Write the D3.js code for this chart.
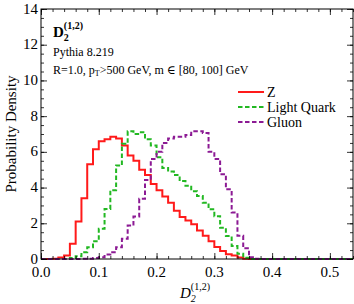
<!DOCTYPE html>
<html>
<head>
<meta charset="utf-8">
<script src="https://cdn.jsdelivr.net/npm/d3@7"></script>
<style>
body { margin: 0; background: #fff; }
text { font-family: "Liberation Serif", "DejaVu Serif", serif; }
</style>
</head>
<body>
<script>
// bin edges start at 0.00, width 0.01
var binStart = d3.range(0, 0.54, 0.01).map(function(d) { return +d.toFixed(2); });

var zValues = [0, 0, 0.02, 0.08, 0.2, 0.85, 2.1, 3.4, 5.3, 6.15,
  6.6, 6.7, 6.85, 6.75, 6.35, 5.8, 5.5, 5.0, 4.7, 4.2,
  3.85, 3.5, 3.15, 2.7, 2.35, 2.15, 1.95, 1.6, 1.3, 1.0,
  0.67, 0.45, 0.27, 0.2, 0.08, 0.02];

var quarkValues = [0, 0, 0, 0, 0, 0.05, 0.16, 0.38, 0.66, 1.0,
  1.69, 2.8, 3.85, 5.23, 6.45, 7.15, 7.0, 7.1, 6.7, 6.35,
  5.7, 5.1, 4.9, 4.7, 4.37, 4.1, 3.8, 3.53, 3.15, 2.78,
  2.4, 1.75, 1.29, 0.73, 0.3, 0.07];

var gluonValues = [0, 0, 0, 0, 0, 0, 0, 0.01, 0.02, 0.05,
  0.1, 0.25, 0.38, 0.66, 1.13, 1.87, 2.38, 3.37, 4.43, 5.6,
  6.0, 6.5, 6.75, 6.85, 6.85, 6.95, 7.15, 7.15, 7.05, 6.0,
  5.6, 4.75, 3.9, 2.6, 1.3, 0.6, 0.1, 0.02];

var seriesNames = ["Z", "Light Quark", "Gluon"];
var xTicks = [0.0, 0.1, 0.2, 0.3, 0.4, 0.5];
var yTicks = [0, 2, 4, 6, 8, 10, 12, 14];

var W = 354, H = 304;
var margin = {top: 9, right: 1, bottom: 45, left: 41};
var width = W - margin.left - margin.right,
    height = H - margin.top - margin.bottom;

var x = d3.scaleLinear().domain([0, 0.54]).range([0, width]);
var y = d3.scaleLinear().domain([0, 14]).range([height, 0]);

var svg = d3.select("body").append("svg")
    .attr("width", W)
    .attr("height", H);
var g = svg.append("g")
    .attr("transform", "translate(" + margin.left + "," + margin.top + ")");

// turn a value list into step points over the whole x range
function toSteps(vals) {
  var pts = binStart.map(function(b, i) { return {x: b, y: i < vals.length ? vals[i] : 0}; });
  pts.push({x: 0.54, y: pts[pts.length - 1].y});
  return pts;
}

var line = d3.line()
    .curve(d3.curveStepAfter)
    .x(function(d) { return x(d.x); })
    .y(function(d) { return y(d.y); });

var styles = [
  {color: "#ff1a1a", dash: null},
  {color: "#22b822", dash: "4.5,2.5"},
  {color: "#8c1a94", dash: "4.5,2.5"}
];
var allSeries = [zValues, quarkValues, gluonValues];

allSeries.forEach(function(vals, i) {
  g.append("path")
    .datum(toSteps(vals))
    .attr("fill", "none")
    .attr("stroke", styles[i].color)
    .attr("stroke-width", 2)
    .attr("stroke-dasharray", styles[i].dash)
    .attr("d", line);
});

// axes with inward ticks, major + minor
var xMinor = d3.range(0, 0.541, 0.02).map(function(d) { return +d.toFixed(2); });
var yMinor = d3.range(0, 14.01, 0.5);

function tickAxis(axisFn, scale, ticks, len) {
  return axisFn(scale).tickValues(ticks).tickSize(len).tickFormat("");
}

// bottom
g.append("g").attr("transform", "translate(0," + height + ")")
  .call(tickAxis(d3.axisTop, x, xMinor, 3));
g.append("g").attr("transform", "translate(0," + height + ")")
  .call(tickAxis(d3.axisTop, x, xTicks, 6));
// top
g.append("g").call(tickAxis(d3.axisBottom, x, xMinor, 3));
g.append("g").call(tickAxis(d3.axisBottom, x, xTicks, 6));
// left
g.append("g").call(tickAxis(d3.axisRight, y, yMinor, 3));
g.append("g").call(tickAxis(d3.axisRight, y, yTicks, 6));
// right
g.append("g").attr("transform", "translate(" + width + ",0)")
  .call(tickAxis(d3.axisLeft, y, yMinor, 3));
g.append("g").attr("transform", "translate(" + width + ",0)")
  .call(tickAxis(d3.axisLeft, y, yTicks, 6));

g.selectAll(".domain").remove();
g.selectAll(".tick line").attr("stroke", "#000").attr("stroke-width", 0.8);

// frame
g.append("rect")
  .attr("width", width).attr("height", height)
  .attr("fill", "none").attr("stroke", "#000").attr("stroke-width", 1);

// tick labels
g.selectAll(".xlab").data(xTicks).enter().append("text")
  .attr("x", function(d) { return x(d); })
  .attr("y", height + 18)
  .attr("text-anchor", "middle")
  .style("font-size", "15px")
  .text(function(d) { return d.toFixed(1); });

g.selectAll(".ylab").data(yTicks).enter().append("text")
  .attr("x", -3)
  .attr("y", function(d) { return y(d); })
  .attr("dy", "0.3em")
  .attr("text-anchor", "end")
  .style("font-size", "15px")
  .text(function(d) { return d; });

// axis titles
svg.append("text")
  .attr("transform", "translate(16," + (margin.top + height / 2) + ") rotate(-90)")
  .attr("text-anchor", "middle")
  .style("font-size", "15px")
  .text("Probability Density");

var xt = svg.append("text")
  .attr("x", 180).attr("y", 298)
  .style("font-size", "15px")
  .style("font-style", "italic");
xt.append("tspan").text("D");
xt.append("tspan").attr("dy", 4).style("font-size", "10px").text("2");
xt.append("tspan").attr("dx", -5).attr("dy", -12).style("font-size", "10px").style("font-style", "normal").text("(1,2)");

// annotations
var title = svg.append("text")
  .attr("x", 53).attr("y", 37)
  .style("font-size", "15px")
  .style("font-weight", "bold");
title.append("tspan").text("D");
title.append("tspan").attr("dy", 4).style("font-size", "10px").text("2");
title.append("tspan").attr("dx", -5).attr("dy", -12).style("font-size", "10px").text("(1,2)");

svg.append("text")
  .attr("x", 53).attr("y", 56)
  .style("font-size", "12px")
  .text("Pythia 8.219");

var rt = svg.append("text")
  .attr("x", 53).attr("y", 74)
  .style("font-size", "12px");
rt.append("tspan").text("R=1.0, p");
rt.append("tspan").attr("dy", 2).style("font-size", "8px").text("T");
rt.append("tspan").attr("dy", -2).text(">500 GeV, m \u2208 [80, 100] GeV");

// legend
var legY = [92, 107, 122];
seriesNames.forEach(function(name, i) {
  svg.append("line")
    .attr("x1", 238).attr("x2", 264)
    .attr("y1", legY[i]).attr("y2", legY[i])
    .attr("stroke", styles[i].color)
    .attr("stroke-width", 2)
    .attr("stroke-dasharray", styles[i].dash);
  svg.append("text")
    .attr("x", 267).attr("y", legY[i])
    .attr("dy", "0.35em")
    .style("font-size", "14px")
    .text(name);
});
</script>
</body>
</html>
